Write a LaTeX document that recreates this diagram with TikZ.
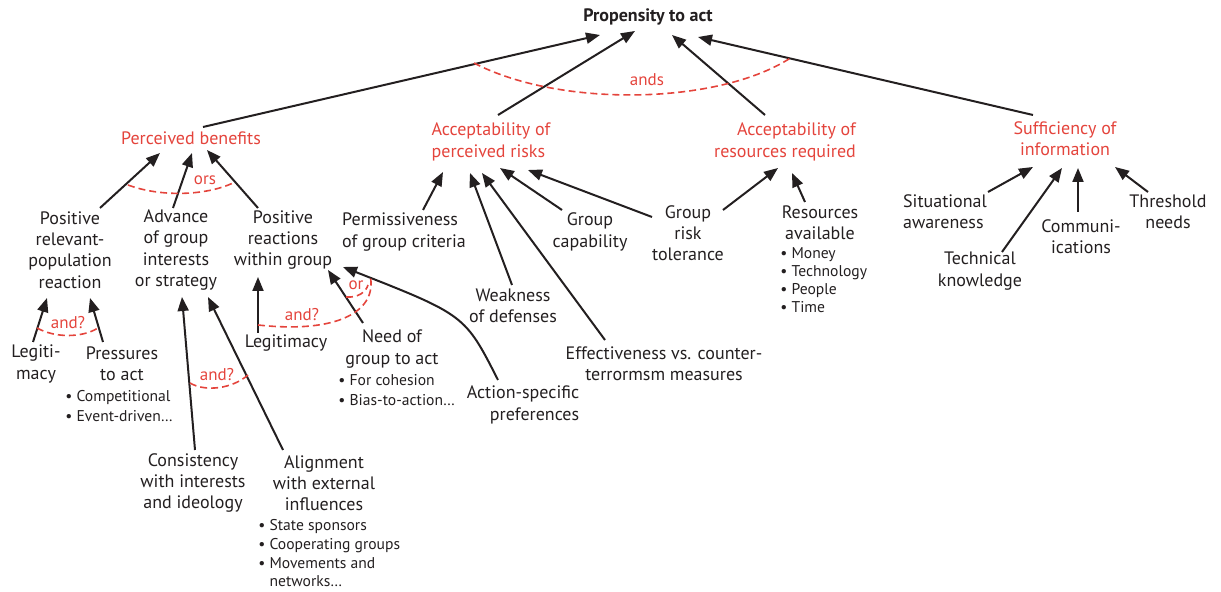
\documentclass[tikz,border=0pt]{standalone}
\usepackage{fontspec}
\setmainfont{PT Sans}
\usepackage{tikz}
\usetikzlibrary{arrows.meta,calc}
\definecolor{orRed}{HTML}{E4443C}
\definecolor{orInk}{HTML}{231F20}
\tikzset{
  factorText/.style={align=center, inner sep=1pt, text=orInk, font=\fontsize{9}{10.6}\selectfont},
  goalText/.style={factorText, text=orRed},
  topText/.style={factorText, font=\fontsize{9}{10.6}\selectfont\bfseries},
  itemList/.style={align=left, inner sep=0pt, anchor=north west, text=orInk, font=\fontsize{7.8}{10}\selectfont},
  causeArrow/.style={-{Triangle[length=7pt,width=5.5pt]}, line width=1pt, draw=orInk},
  logicArc/.style={draw=orRed, line width=0.8pt, dash pattern=on 3.5pt off 2pt},
  logicLabel/.style={text=orRed, inner sep=0pt, font=\fontsize{8.5}{10}\selectfont}
}

\begin{document}
\begin{tikzpicture}[x=0.5pt,y=-0.5pt]
  \useasboundingbox (0,0) rectangle (1221,592);
  % top and the four main factors
  \node[topText] (act) at (648,17) {Propensity to act};
  \node[goalText] (benefit) at (191,138) {Perceived benefits};
  \node[goalText, align=left] (risk) at (491,142) {Acceptability of\\perceived risks};
  \node[goalText, align=right] (resource) at (785,142) {Acceptability of\\resources required};
  \node[goalText] (info) at (1065,139) {Sufficiency of\\information};

  % benefits branch
  \node[factorText] (popReact) at (70,250) {Positive\\relevant-\\population\\reaction};
  \node[factorText] (advance) at (176,250) {Advance\\of group\\interests\\or strategy};
  \node[factorText] (groupReact) at (283,240) {Positive\\reactions\\within group};
  \node[factorText] (legitPop) at (36,364) {Legiti-\\macy};
  \node[factorText] (pressure) at (122,364) {Pressures\\to act};
  \node[itemList] (pressureList) at (65,390) {\textbullet\ Competitional\\\textbullet\ Event-driven\ldots};
  \node[factorText] (consist) at (193,483) {Consistency\\with interests\\and ideology};
  \node[factorText] (alignInf) at (324,483) {Alignment\\with external\\influences};
  \node[itemList, font=\fontsize{7.8}{9.4}\selectfont] (alignList) at (258,519) {\textbullet\ State sponsors\\\textbullet\ Cooperating groups\\\textbullet\ Movements and\\\phantom{\textbullet\ }networks\ldots};
  \node[factorText] (legitGroup) at (286,343) {Legitimacy};
  \node[factorText] (need) at (392,349) {Need of\\group to act};
  \node[itemList] (needList) at (338,374) {\textbullet\ For cohesion\\\textbullet\ Bias-to-action\ldots};
  \node[factorText, align=right] (actPref) at (523,405) {Action-specific\\preferences};

  % risks branch
  \node[factorText, align=left] (permit) at (404,232) {Permissiveness\\of group criteria};
  \node[factorText] (weak) at (513,306) {Weakness\\of defenses};
  \node[factorText] (capab) at (590,232) {Group\\capability};
  \node[factorText] (effect) at (664,364) {Effectiveness vs. counter-\\terrormsm measures};
  \node[factorText] (tolerance) at (688,233) {Group\\risk\\tolerance};

  % resources and information
  \node[factorText] (resAvail) at (820,223) {Resources\\available};
  \node[itemList, font=\fontsize{7.8}{9}\selectfont] (resList) at (780,247) {\textbullet\ Money\\\textbullet\ Technology\\\textbullet\ People\\\textbullet\ Time};
  \node[factorText, align=left] (aware) at (945,212) {Situational\\awareness};
  \node[factorText] (tech) at (980,271) {Technical\\knowledge};
  \node[factorText] (comms) at (1081,237) {Communi-\\ications};
  \node[factorText] (thresh) at (1168,212) {Threshold\\needs};

  % arrows into propensity
  \draw[causeArrow] ($(benefit)+(12,-11)$) -- ($(act)+(-48,18)$);
  \draw[causeArrow] ($(risk)+(7,-27)$) -- ($(act)+(-13,14)$);
  \draw[causeArrow] ($(resource)+(-20,-27)$) -- ($(act)+(24,18)$);
  \draw[causeArrow] ($(info)+(-32,-24)$) -- ($(act)+(50,20)$);
  \draw[logicArc] (474,63) .. controls (560,108) and (720,105) .. (792,57);
  \node[logicLabel] (andsTag) at (647,80) {ands};

  % benefits
  \draw[causeArrow] ($(popReact)+(30,-42)$) -- ($(benefit)+(-31,15)$);
  \draw[causeArrow] ($(advance)+(-3,-42)$) -- ($(benefit)+(1,15)$);
  \draw[causeArrow] ($(groupReact)+(-25,-32)$) -- ($(benefit)+(16,12)$);
  \draw[logicArc] (128,185) .. controls (160,197) and (205,196) .. (233,183);
  \node[logicLabel] (orsTag) at (205,180) {ors};

  \draw[causeArrow] ($(legitPop)+(-3,-22)$) -- ($(popReact)+(-23,48)$);
  \draw[causeArrow] ($(pressure)+(-19,-22)$) -- ($(popReact)+(20,48)$);
  \draw[logicArc] (37,328) .. controls (55,338) and (82,338) .. (98,328);
  \node[logicLabel] (andPopTag) at (68,323) {and?};

  \draw[causeArrow] ($(consist)+(2,-33)$) -- ($(advance)+(6,47)$);
  \draw[causeArrow] ($(alignInf)+(-41,-33)$) -- ($(advance)+(32,47)$);
  \draw[logicArc] (190,383) .. controls (205,392) and (232,389) .. (248,375);
  \node[logicLabel] (andAdvTag) at (217,375) {and?};

  \draw[causeArrow] ($(legitGroup)+(-28,-10)$) -- ($(groupReact)+(-25,37)$);
  \draw[causeArrow] ($(need)+(-29,-26)$) -- ($(groupReact)+(45,30)$);
  \draw[causeArrow] ($(actPref)+(-25,-25)$) .. controls (465,315) .. ($(groupReact)+(60,27)$);
  \draw[logicArc] (258,325) .. controls (340,334) and (378,310) .. (370,275);
  \node[logicLabel] (andGrpTag) at (302,315) {and?};
  \draw[logicArc] (346,297) .. controls (358,298) and (366,292) .. (368,285);
  \node[logicLabel] (orTag) at (356,285) {or};

  % risks
  \draw[causeArrow] ($(permit)+(19,-22)$) -- ($(risk)+(-48,30)$);
  \draw[causeArrow] ($(weak)+(-1,-21)$) -- ($(risk)+(-21,31)$);
  \draw[causeArrow] ($(effect)+(-59,-24)$) -- ($(risk)+(-9,31)$);
  \draw[causeArrow] ($(capab)+(-28,-22)$) -- ($(risk)+(9,26)$);
  \draw[causeArrow] ($(tolerance)+(-36,-16)$) -- ($(risk)+(37,28)$);
  \draw[causeArrow] ($(tolerance)+(35,-23)$) -- ($(resource)+(-7,26)$);
  \draw[causeArrow] ($(resAvail)+(-15,-21)$) -- ($(resource)+(7,31)$);

  % information
  \draw[causeArrow] ($(aware)+(43,-20)$) -- ($(info)+(-32,28)$);
  \draw[causeArrow] ($(tech)+(22,-19)$) -- ($(info)+(-3,29)$);
  \draw[causeArrow] ($(comms)+(-3,-25)$) -- ($(info)+(13,29)$);
  \draw[causeArrow] ($(thresh)+(-20,-20)$) -- ($(info)+(50,28)$);
\end{tikzpicture}
\end{document}
